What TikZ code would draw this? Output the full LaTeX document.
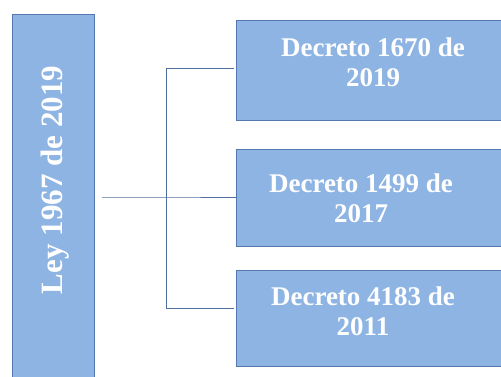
\documentclass[tikz,border=0pt]{standalone}
\usepackage{fontspec}
\setmainfont{Liberation Serif}
\definecolor{boxfill}{HTML}{8EB4E3}
\definecolor{boxedge}{HTML}{5479AE}
\definecolor{linec}{HTML}{4F6F9F}
\begin{document}
\begin{tikzpicture}[x=1pt,y=-1pt,
  box/.style={draw=boxedge,fill=boxfill,line width=1.1pt,inner sep=0pt,rectangle},
  wtext/.style={text=white,font=\bfseries\fontsize{27}{30}\selectfont,inner sep=0pt,align=center},
  conn/.style={draw=linec,line width=0.9pt}]
\useasboundingbox (0,0) rectangle (501,376);
% left box
\node[box,minimum width=82pt,minimum height=374pt,anchor=north west] (ley) at (12,14) {};
\node[text=white,font=\bfseries\fontsize{31}{34}\selectfont,inner sep=0pt,rotate=90,anchor=base] (leyt) at (62.3,180) {Ley 1967 de 2019};
% right boxes
\node[box,minimum width=280pt,minimum height=100pt,anchor=north west] (d1) at (236,20) {};
\node[box,minimum width=280pt,minimum height=97pt,anchor=north west] (d2) at (236,149) {};
\node[box,minimum width=280pt,minimum height=96pt,anchor=north west] (d3) at (236,270) {};
\node[wtext,anchor=base] (t1) at (373,86) {Decreto 1670 de\\2019};
\node[wtext,anchor=base] (t2) at (361,222) {Decreto 1499 de\\2017};
\node[wtext,anchor=base] (t3) at (363,335) {Decreto 4183 de\\2011};
% connectors
\coordinate (start) at (102,197);
\coordinate (top) at (166,68);
\coordinate (bot) at (166,308);
\coordinate (mid) at (166,197);
\coordinate (e1) at (234,68);
\coordinate (e3) at (234,308);
\draw[conn] (start) -- (mid) -- (d2.west |- mid);
\draw[conn] (top) -- (bot);
\draw[conn] (top) -- (e1);
\draw[conn] (bot) -- (e3);
\end{tikzpicture}
\end{document}
